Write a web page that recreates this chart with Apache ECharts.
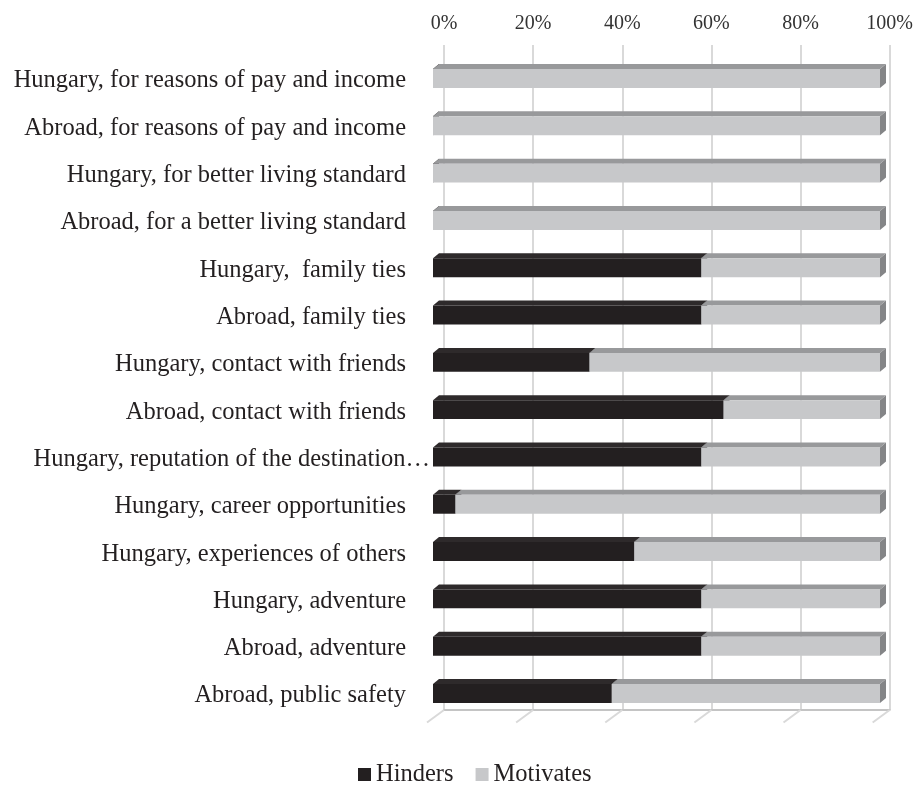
<!DOCTYPE html>
<html>
<head>
<meta charset="utf-8">
<title>Hinders / Motivates</title>
<script src="https://cdn.jsdelivr.net/npm/echarts@6/dist/echarts.min.js"></script>
<style>
  html, body { margin: 0; padding: 0; background: #ffffff; }
  #chart { width: 916px; height: 785px; }
</style>
</head>
<body>
<div id="chart"></div>
<script>
// Categories, top to bottom
var categories = [
  'Hungary, for reasons of pay and income',
  'Abroad, for reasons of pay and income',
  'Hungary, for better living standard',
  'Abroad, for a better living standard',
  'Hungary,  family ties',
  'Abroad, family ties',
  'Hungary, contact with friends',
  'Abroad, contact with friends',
  'Hungary, reputation of the destination\u2026',
  'Hungary, career opportunities',
  'Hungary, experiences of others',
  'Hungary, adventure',
  'Abroad, adventure',
  'Abroad, public safety'
];

// Shares in percent
var hinders   = [0, 0, 0, 0, 60, 60, 35, 65, 60, 5, 45, 60, 60, 40];
var motivates = [100, 100, 100, 100, 40, 40, 65, 35, 40, 95, 55, 40, 40, 60];

var seriesNames = ['Hinders', 'Motivates'];
var tickValues = [0, 20, 40, 60, 80, 100];

// Face colours for the extruded bars: front, top, side
var faces = {
  Hinders:   { front: '#231f20', top: '#2e2a2b', side: '#1a1718' },
  Motivates: { front: '#c7c8ca', top: '#98999b', side: '#848587' }
};

var DEPTH_X = 6, DEPTH_Y = 5;   // bar extrusion
var FLOOR_X = 17, FLOOR_Y = 12.5; // floor grid lines
var BAR_RATIO = 0.40;
var SERIF = '"Liberation Serif", "Times New Roman", serif';

// Build stacked segments [categoryIndex, start, end]
function segments(values, base) {
  return values.map(function (v, i) {
    var s = base ? base[i] : 0;
    return [i, s, s + v];
  });
}

function renderBar(name) {
  var c = faces[name];
  return function (params, api) {
    var cat = api.value(0);
    var p0 = api.coord([api.value(1), cat]);
    var p1 = api.coord([api.value(2), cat]);
    var h = api.size([0, 1])[1] * BAR_RATIO;
    var top = p0[1] - h / 2, bot = p0[1] + h / 2;
    var x0 = p0[0], x1 = p1[0];
    return {
      type: 'group',
      children: [
        {
          type: 'polygon',
          shape: { points: [[x1, top], [x1 + DEPTH_X, top - DEPTH_Y], [x1 + DEPTH_X, bot - DEPTH_Y], [x1, bot]] },
          style: { fill: c.side }
        },
        {
          type: 'polygon',
          shape: { points: [[x0, top], [x0 + DEPTH_X, top - DEPTH_Y], [x1 + DEPTH_X, top - DEPTH_Y], [x1, top]] },
          style: { fill: c.top }
        },
        {
          type: 'rect',
          shape: { x: x0, y: top, width: x1 - x0, height: h },
          style: { fill: c.front }
        }
      ]
    };
  };
}

function renderFloor(params, api) {
  var p = api.coord([api.value(0), 0]);
  return {
    type: 'line',
    shape: { x1: p[0], y1: p[1], x2: p[0] - FLOOR_X, y2: p[1] + FLOOR_Y },
    style: { stroke: '#d9d9d9', lineWidth: 2 }
  };
}

var chart = echarts.init(document.getElementById('chart'), null, { renderer: 'canvas' });

chart.setOption({
  animation: false,
  backgroundColor: '#ffffff',
  legend: {
    data: seriesNames,
    left: 353,
    top: 757,
    icon: 'rect',
    itemWidth: 13,
    itemHeight: 13,
    itemGap: 22,
    textStyle: { fontFamily: SERIF, fontSize: 24.5, color: '#231f20' }
  },
  grid: [
    // back wall with gridlines
    { left: 444, top: 45, width: 447, height: 665 },
    // bars
    { left: 433, top: 54.85, width: 447, height: 662.3 }
  ],
  xAxis: [
    {
      gridIndex: 0,
      type: 'value',
      position: 'top',
      min: 0,
      max: 100,
      interval: 20,
      axisLine: { show: true, lineStyle: { color: '#c4c4c4', width: 2 } },
      axisTick: { show: false },
      axisLabel: {
        margin: 11,
        formatter: '{value}%',
        fontFamily: SERIF,
        fontSize: 20,
        color: '#333333'
      },
      splitLine: { show: true, lineStyle: { color: '#d9d9d9', width: 2 } }
    },
    {
      gridIndex: 1,
      type: 'value',
      min: 0,
      max: 100,
      show: false
    }
  ],
  yAxis: [
    {
      gridIndex: 0,
      type: 'value',
      min: 0,
      max: 1,
      show: false
    },
    {
      gridIndex: 1,
      type: 'category',
      inverse: true,
      data: categories,
      axisLine: { show: false },
      axisTick: { show: false },
      splitLine: { show: false },
      axisLabel: {
        margin: 3,
        formatter: function (v) {
          return (v.charAt(v.length - 1) === '\u2026' ? '{t|' : '{n|') + v + '}';
        },
        rich: {
          n: { fontFamily: SERIF, fontSize: 24.5, color: '#231f20', padding: [5, 24, 0, 0] },
          t: { fontFamily: SERIF, fontSize: 24.5, color: '#231f20', padding: [5, 0, 0, 0] }
        }
      }
    }
  ],
  series: [
    {
      type: 'custom',
      name: 'floor',
      xAxisIndex: 0,
      yAxisIndex: 0,
      silent: true,
      renderItem: renderFloor,
      encode: { x: 0 },
      data: tickValues.map(function (v) { return [v]; }),
      z: 1
    },
    {
      type: 'custom',
      name: 'Hinders',
      xAxisIndex: 1,
      yAxisIndex: 1,
      itemStyle: { color: faces.Hinders.front },
      renderItem: renderBar('Hinders'),
      encode: { x: [1, 2], y: 0 },
      data: segments(hinders),
      z: 3
    },
    {
      type: 'custom',
      name: 'Motivates',
      xAxisIndex: 1,
      yAxisIndex: 1,
      itemStyle: { color: faces.Motivates.front },
      renderItem: renderBar('Motivates'),
      encode: { x: [1, 2], y: 0 },
      data: segments(motivates, hinders),
      z: 3
    }
  ]
});
</script>
</body>
</html>
